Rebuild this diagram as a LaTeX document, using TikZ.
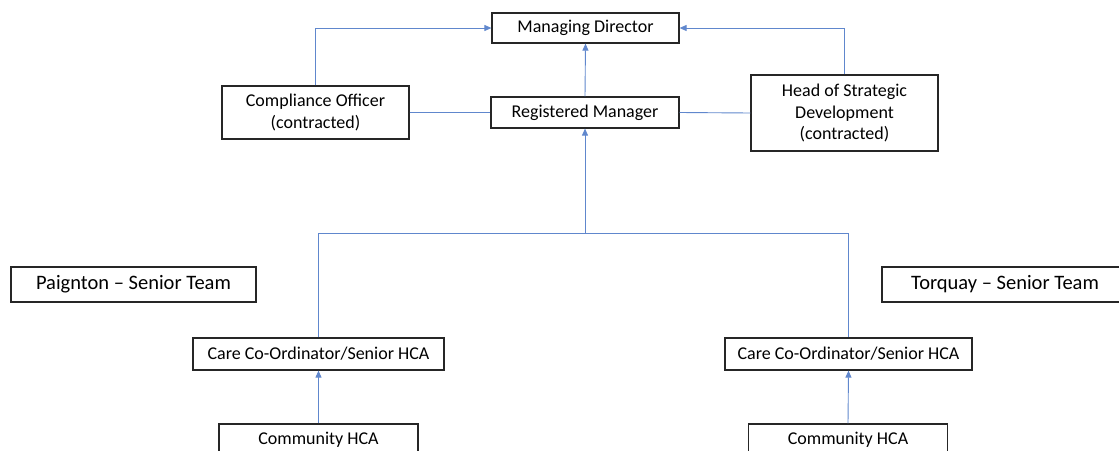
\documentclass[tikz,border=0pt]{standalone}
\usepackage{fontspec}
\setmainfont{Carlito}
\usetikzlibrary{arrows.meta,positioning,calc}
\definecolor{linkblue}{RGB}{68,114,196}

\begin{document}
\begin{tikzpicture}[
    x=1pt, y=-1pt,
    >={Triangle[length=7pt, width=6pt]},
    post/.style={rectangle, draw=black!85, line width=1.2pt, fill=white, align=center, inner sep=0pt, font=\fontsize{18}{21.5}\selectfont},
    team/.style={post, minimum height=35pt, font=\fontsize{20.5}{24}\selectfont},
    link/.style={draw=linkblue!85, line width=0.9pt},
  ]
    \useasboundingbox (0,0) rectangle (1119,450);

    \node[post, minimum width=187pt, minimum height=30pt] (md) at (585.5,28) {Managing Director};
    \node[post, minimum width=188pt, minimum height=31pt] (rm) at (585,112.5) {Registered Manager};
    \node[post, minimum width=187pt, minimum height=53pt] (comp) at (315.5,112.5) {Compliance Officer\\(contracted)};
    \node[post, minimum width=187pt, minimum height=76pt] (head) at (844.5,113) {Head of Strategic\\Development\\(contracted)};

    \node[team, minimum width=245pt] (paig) at (133.5,284.5) {Paignton -- Senior Team};
    \node[team, minimum width=246pt] (torq) at (1005,284.5) {Torquay -- Senior Team};

    \node[post, minimum width=251pt, minimum height=32pt] (careL) at (318.5,354) {Care Co-Ordinator/Senior HCA};
    \node[post, minimum width=247pt, minimum height=32pt] (careR) at (848.5,354) {Care Co-Ordinator/Senior HCA};
    \node[post, minimum width=199pt, minimum height=32pt] (comL) at (318.5,440) {Community HCA};
    \node[post, minimum width=199pt, minimum height=32pt] (comR) at (848,440) {Community HCA};

    \coordinate (jn) at ($(rm.south)+(0,105)$);

    \draw[link, ->] (comp.north) |- (md.west);
    \draw[link, ->] (head.north) |- (md.east);
    \draw[link, ->] (rm.north) -- (md.south);
    \draw[link] (comp.east) -- (rm.west);
    \draw[link] (rm.east) -- (head.west);
    \draw[link] (careL.north) |- (jn) -| (careR.north);
    \draw[link, ->] (jn) -- (rm.south);
    \draw[link, ->] (comL.north) -- (careL.south);
    \draw[link, ->] (comR.north) -- (careR.south);
\end{tikzpicture}
\end{document}
